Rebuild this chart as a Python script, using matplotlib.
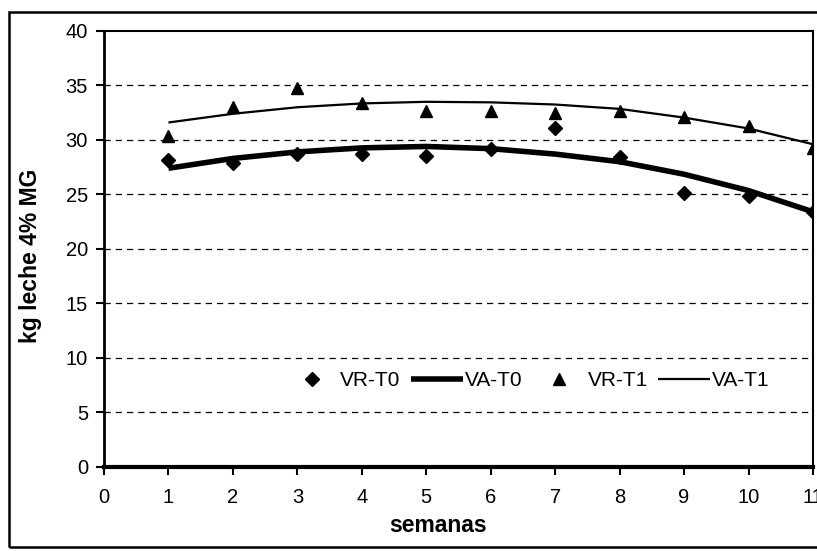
import matplotlib
matplotlib.use("Agg")
import matplotlib.pyplot as plt
from matplotlib.patches import Rectangle

plt.rcParams['font.family'] = ['Liberation Sans', 'DejaVu Sans']

weeks = [1, 2, 3, 4, 5, 6, 7, 8, 9, 10, 11]
vr_t0 = [28.2, 27.9, 28.7, 28.7, 28.5, 29.2, 31.1, 28.4, 25.1, 24.85, 23.4]
va_t0 = [27.4, 28.3, 28.9, 29.27, 29.4, 29.2, 28.7, 28.0, 26.85, 25.35, 23.4]
vr_t1 = [30.38, 33.0, 34.8, 33.4, 32.7, 32.7, 32.45, 32.7, 32.1, 31.3, 29.3]
va_t1 = [31.6, 32.4, 33.0, 33.35, 33.5, 33.45, 33.25, 32.85, 32.05, 31.05, 29.6]
x_ticks = list(range(0, 12))
y_ticks = list(range(0, 45, 5))

fig = plt.figure(figsize=(8.17, 5.51), dpi=100)
ax = fig.add_axes([104/817, 1-466.7/551, (813-104)/817, (466.7-31)/551])

ax.set_xlim(0, 11)
ax.set_ylim(0, 40)
for yv in y_ticks[1:-1]:
    ax.axhline(yv, color='black', lw=0.9, ls=(0, (5, 4)), zorder=1)

ax.plot(weeks, vr_t0, ls='none', marker='D', ms=7, color='black', label='VR-T0', zorder=3)
ax.plot(weeks, va_t0, color='black', lw=4, label='VA-T0', zorder=2, solid_capstyle='butt')
ax.plot(weeks, vr_t1, ls='none', marker='^', ms=9, color='black', label='VR-T1', zorder=3)
ax.plot(weeks, va_t1, color='black', lw=1.6, label='VA-T1', zorder=2, solid_capstyle='butt')

ax.set_xticks(x_ticks)
ax.set_yticks(y_ticks)
ax.tick_params(axis='both', direction='out', length=5.5, width=1.5, labelsize=14.5, colors='black')
ax.tick_params(axis='x', pad=10)
ax.tick_params(axis='y', pad=6)
for side in ['top', 'right']:
    ax.spines[side].set_linewidth(1.5)
ax.spines['left'].set_linewidth(2)
ax.spines['bottom'].set_linewidth(3)
for lab in ax.get_xticklabels() + ax.get_yticklabels():
    lab.set_clip_on(False)

ax.set_xlabel('semanas', fontsize=16.5, fontweight='bold')
ax.xaxis.set_label_coords(438/817, 1-525/551, transform=fig.transFigure)
ax.set_ylabel('kg leche 4% MG', fontsize=16.5, fontweight='bold')
ax.yaxis.set_label_coords(31/817, 1-256/551, transform=fig.transFigure)
ax.xaxis.label.set_va('center')
ax.yaxis.label.set_va('center')

ax.legend(loc='center', bbox_to_anchor=(528/817, 1-381/551), bbox_transform=fig.transFigure,
          ncol=4, frameon=False, fontsize=15, handlelength=2.5, handletextpad=0.1,
          columnspacing=0.5, borderpad=0)

fig.patches.append(Rectangle((9/817, 4/551), 1.2, 1-16/551, transform=fig.transFigure,
                             fill=False, edgecolor='black', lw=1.8, zorder=0))

fig.savefig('out.png', dpi=100)
